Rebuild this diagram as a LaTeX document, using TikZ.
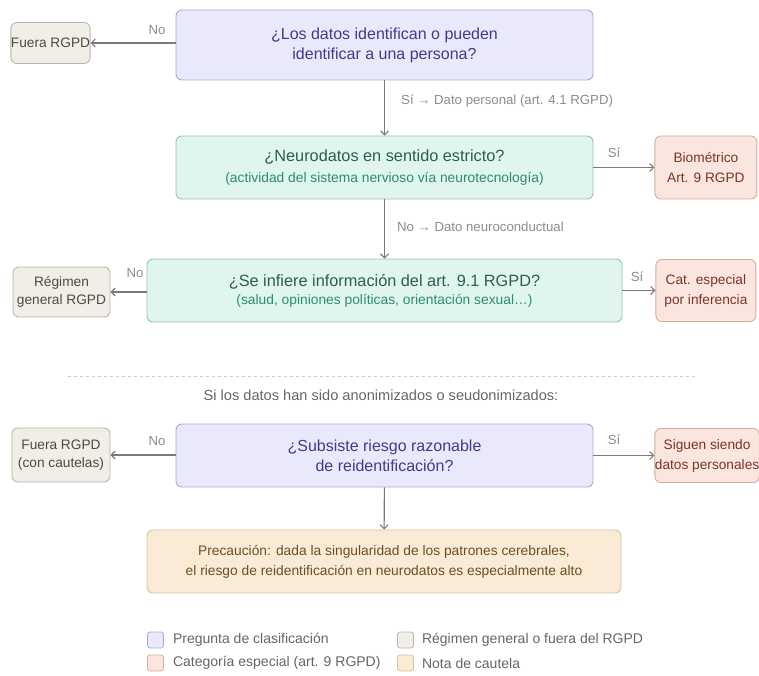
\documentclass[tikz,border=0pt]{standalone}
\usepackage{fontspec}
\setmainfont{Liberation Sans}
\usetikzlibrary{arrows.meta,positioning}
\definecolor{qfill}{HTML}{EAE9FB}
\definecolor{qdraw}{HTML}{A9A8DA}
\definecolor{qtext}{HTML}{3D3C8E}
\definecolor{nfill}{HTML}{E1F5EF}
\definecolor{ndraw}{HTML}{92C4B4}
\definecolor{ntext}{HTML}{2C5E51}
\definecolor{nsub}{HTML}{2B8C72}
\definecolor{rfill}{HTML}{FBE6DF}
\definecolor{rdraw}{HTML}{DCA898}
\definecolor{rtext}{HTML}{7B3425}
\definecolor{gfill}{HTML}{F0EEE7}
\definecolor{gdraw}{HTML}{B8B5AB}
\definecolor{gtext}{HTML}{4A4A48}
\definecolor{ofill}{HTML}{FAEBD6}
\definecolor{odraw}{HTML}{D9C19E}
\definecolor{otext}{HTML}{6E4E23}
\definecolor{lgray}{HTML}{8C8C8C}
\definecolor{agray}{HTML}{7A7A7A}

\begin{document}
\begin{tikzpicture}[
    x=1pt, y=-1pt,
    node distance=60pt and 60pt,
    box/.style={rectangle, draw, rounded corners=6pt, align=center,
                line width=0.9pt, inner sep=1pt},
    qbox/.style={box, fill=qfill, draw=qdraw, text=qtext, minimum width=417pt,
                 minimum height=63pt, font=\fontsize{16}{20}\selectfont},
    nbox/.style={box, fill=nfill, draw=ndraw, text=ntext, minimum width=417pt,
                 minimum height=63pt},
    rbox/.style={box, fill=rfill, draw=rdraw, text=rtext, minimum width=102pt,
                 font=\fontsize{13.7}{20}\selectfont},
    gbox/.style={box, fill=gfill, draw=gdraw, text=gtext,
                 font=\fontsize{13.7}{18}\selectfont},
    obox/.style={box, fill=ofill, draw=odraw, text=otext, minimum width=474pt,
                 minimum height=63pt, font=\fontsize{13.8}{20}\selectfont},
    legsq/.style={rectangle, draw, rounded corners=2.5pt, minimum size=16pt,
                  inner sep=0pt, line width=0.7pt},
    arrow/.style={-{Straight Barb[length=4pt,width=8pt]}, agray, line width=1.1pt},
    lbl/.style={text=lgray, font=\fontsize{13.2}{15}\selectfont, inner sep=0pt},
    leg/.style={text=gtext!85, font=\fontsize{14}{16}\selectfont, inner sep=0pt, anchor=west}
]
\useasboundingbox (0,0) rectangle (759,676);

%% -- Question boxes ------------------------------------------------
\node[qbox, minimum height=70pt] (ident) at (384.5,45)
    {¿Los datos identifican o pueden\\identificar a una persona?};
\node[nbox] (neuro) at (384.5,167.5)
    {{\fontsize{16.3}{18}\selectfont ¿Neurodatos en sentido estricto?}\\[8pt]
     {\color{nsub}\fontsize{13.8}{15}\selectfont (actividad del sistema nervioso vía neurotecnología)}};
\node[nbox, minimum width=475pt] (infer) at (384.5,290.5)
    {{\fontsize{16.3}{18}\selectfont ¿Se infiere información del art. 9.1 RGPD?}\\[4pt]
     {\color{nsub}\fontsize{13.8}{15}\selectfont (salud, opiniones políticas, orientación sexual…)}};
\node[qbox] (reid) at (384.5,455.5)
    {¿Subsiste riesgo razonable\\de reidentificación?};
\node[obox] (nota) at (384,561.5)
    {Precaución: dada la singularidad de los patrones cerebrales,\\
     el riesgo de reidentificación en neurodatos es especialmente alto};

%% -- Outcome boxes -------------------------------------------------
\node[gbox, minimum width=77pt, minimum height=41pt, inner sep=0pt] (fuera) at (50.5,43) {Fuera RGPD};
\node[rbox, minimum height=63pt, right=61pt of neuro] (biom) {Biométrico\\Art. 9 RGPD};
\node[gbox, minimum width=97pt, minimum height=50pt] (regimen) at (61.5,292) {Régimen\\general RGPD};
\node[rbox, minimum width=100pt, minimum height=62pt, right=33pt of infer] (catesp) {Cat. especial\\por inferencia};
\node[gbox, minimum width=98pt, minimum height=54pt] (fuera2) at (61,455) {Fuera RGPD\\(con cautelas)};
\node[rbox, minimum width=104pt, minimum height=54pt, inner sep=0pt, right=61pt of reid] (siguen)
    {Siguen siendo\\datos personales};

%% -- Arrows --------------------------------------------------------
\draw[arrow] (ident.west |- fuera.east) -- (fuera.east);
\draw[arrow] (ident) -- (neuro);
\draw[arrow] (neuro) -- (biom);
\draw[arrow] (neuro) -- (infer);
\draw[arrow] (infer.west |- regimen.east) -- (regimen.east);
\draw[arrow] (infer.east |- catesp.west) -- (catesp.west);
\draw[arrow] (reid.west |- fuera2.east) -- (fuera2.east);
\draw[arrow] (reid.east |- siguen.west) -- (siguen.west);
\draw[arrow] (reid) -- (nota);

%% -- Arrow labels --------------------------------------------------
\node[lbl] (no1) at (157,30) {No};
\node[lbl, anchor=west] (si1) at (401,101) {Sí → Dato personal (art. 4.1 RGPD)};
\node[lbl] (si2) at (614,153) {Sí};
\node[lbl, anchor=west] (no2) at (397,227) {No → Dato neuroconductual};
\node[lbl] (no3) at (135,273) {No};
\node[lbl] (si3) at (637,277) {Sí};
\node[lbl] (no4) at (157,441) {No};
\node[lbl] (si4) at (614,440) {Sí};

%% -- Separator -----------------------------------------------------
\coordinate (sepL) at (68,376);
\coordinate (sepR) at (697,376);
\draw[gray!40, dashed, dash pattern=on 3pt off 3pt, line width=0.8pt] (sepL) -- (sepR);
\node[lbl, text=gtext!85, font=\fontsize{14.6}{16}\selectfont] (anon) at (381,395)
    {Si los datos han sido anonimizados o seudonimizados:};

%% -- Legend --------------------------------------------------------
\node[legsq, fill=qfill, draw=qdraw] (lq) at (155.5,640) {};
\node[leg, right=9pt of lq] {Pregunta de clasificación};
\node[legsq, fill=rfill, draw=rdraw] (lr) at (155.5,663) {};
\node[leg, right=9pt of lr] {Categoría especial (art. 9 RGPD)};
\node[legsq, fill=gfill, draw=gdraw] (lg) at (405.5,640) {};
\node[leg, right=8pt of lg] {Régimen general o fuera del RGPD};
\node[legsq, fill=ofill, draw=odraw] (lo) at (405.5,663) {};
\node[leg, right=8pt of lo] {Nota de cautela};

\end{tikzpicture}
\end{document}
